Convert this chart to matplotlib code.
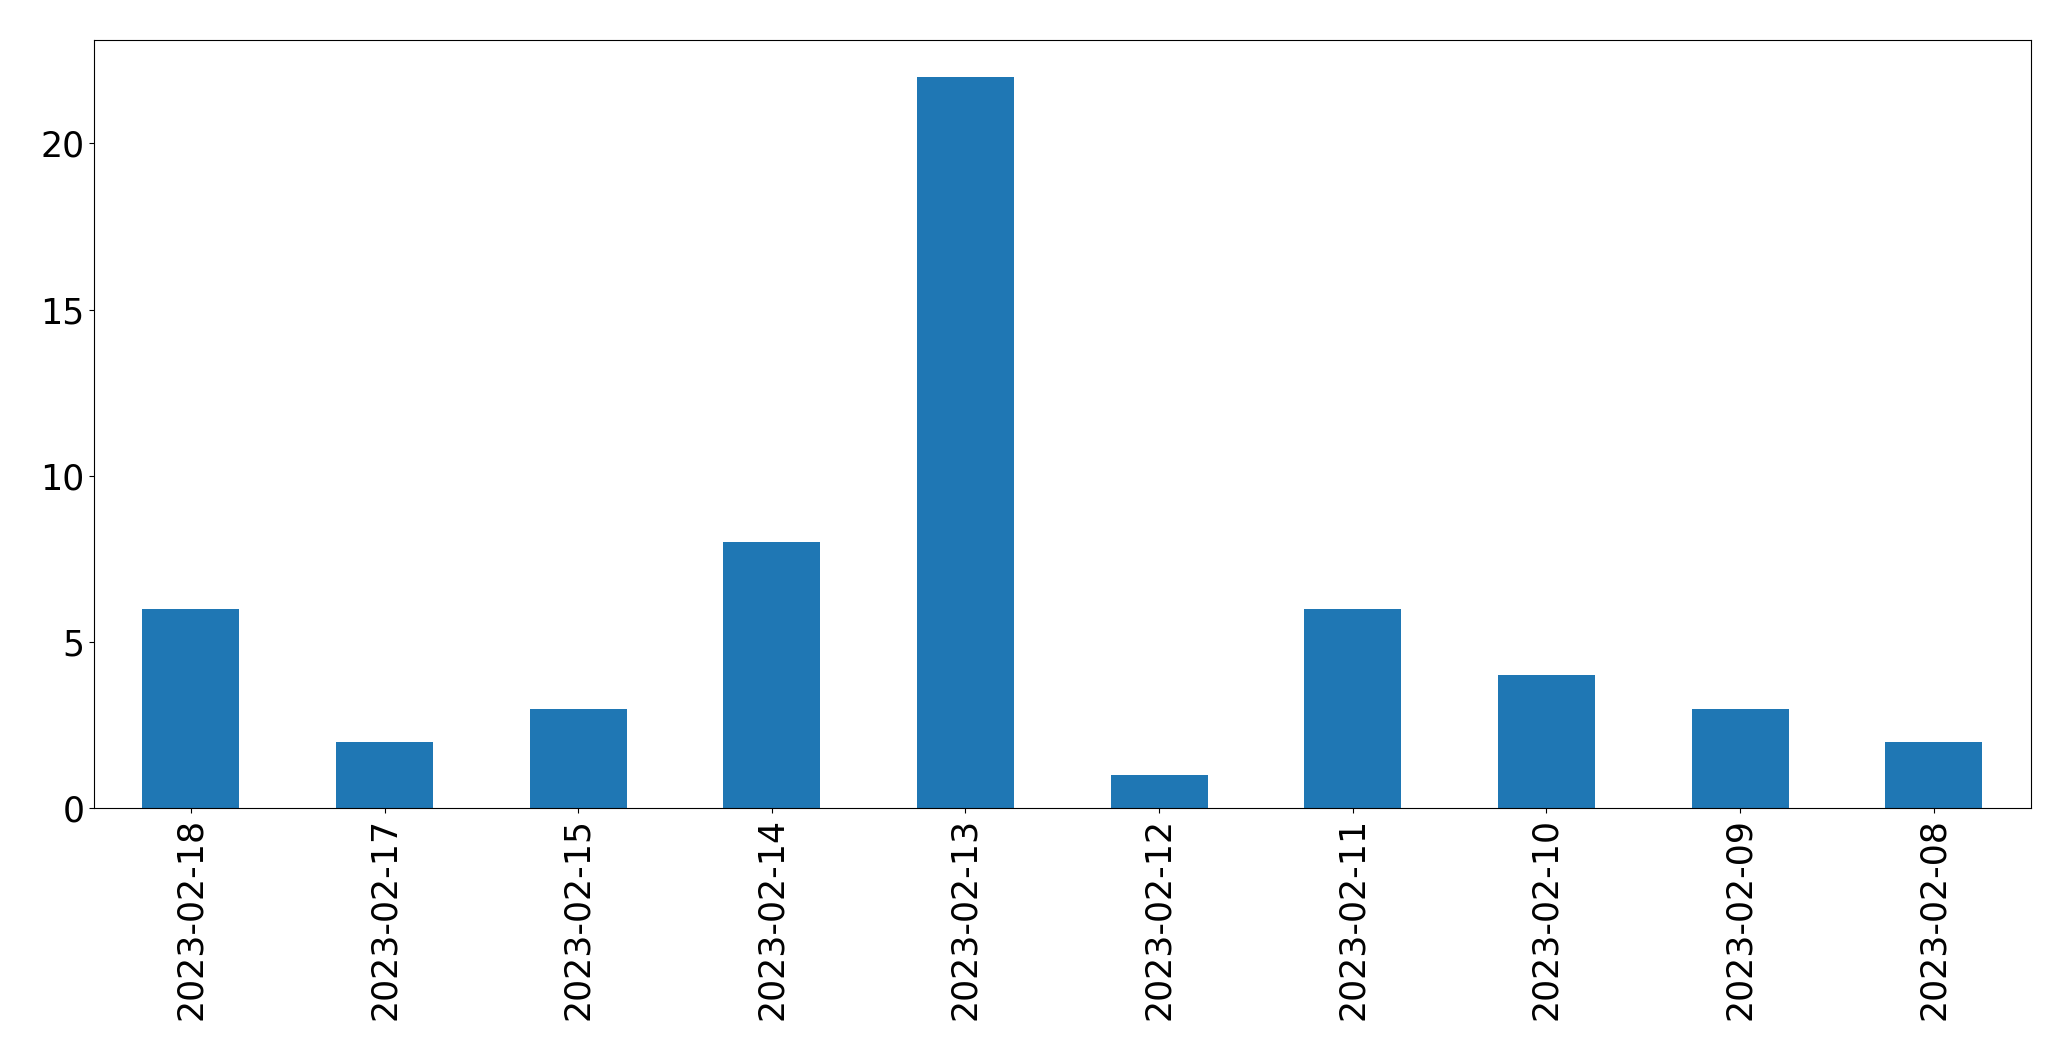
import matplotlib
matplotlib.use("Agg")
import matplotlib.pyplot as plt
import pandas as pd

# ========================== DATA ==========================
dates = ["2023-02-18", "2023-02-17", "2023-02-15", "2023-02-14", "2023-02-13",
         "2023-02-12", "2023-02-11", "2023-02-10", "2023-02-09", "2023-02-08"]
counts = [6, 2, 3, 8, 22, 1, 6, 4, 3, 2]

# ========================== PLOT ==========================
s = pd.Series(counts, index=dates)

fig, ax = plt.subplots(figsize=(20.71, 10.61), dpi=100)
s.plot(kind="bar", ax=ax, color="#1f77b4")
ax.tick_params(axis="both", labelsize=25)
ax.set_yticks([0, 5, 10, 15, 20])

plt.subplots_adjust(left=0.0454, right=0.9805, top=0.962, bottom=0.238)
plt.savefig("out.png", dpi=100)
plt.close()
